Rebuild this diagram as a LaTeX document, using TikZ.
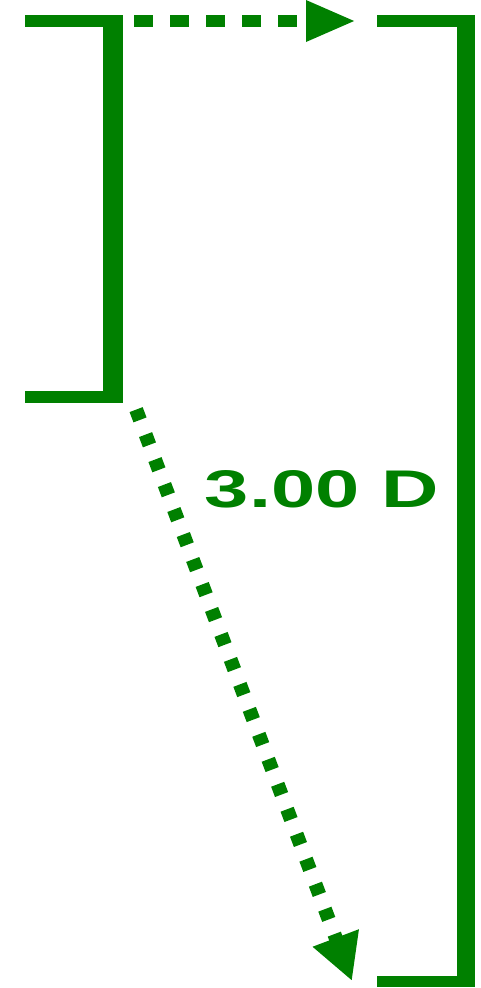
\documentclass[tikz,border=0pt]{standalone}
\usepackage{fontspec}
\setsansfont{Liberation Sans}
\usepackage{xcolor}
\usetikzlibrary{arrows.meta}
\definecolor{lensgreen}{RGB}{0,128,0}

\begin{document}
\begin{tikzpicture}[
  x=1pt, y=-1pt,
  bar/.style={fill=lensgreen},
  arr/.style={draw=lensgreen, line width=12pt, dash pattern=on 19pt off 17pt,
    -{Triangle[length=50pt, width=38pt, fill=lensgreen]}},
  power/.style={text=lensgreen, font=\sffamily\bfseries\fontsize{53}{53}\selectfont, inner sep=0pt}
]
\useasboundingbox (0,0) rectangle (480,988);

% left bracket
\fill[bar] (25,15) rectangle (123,27);
\fill[bar] (103,15) rectangle (123,403);
\fill[bar] (25,391) rectangle (123,403);

% right bracket
\fill[bar] (377,15) rectangle (475,27);
\fill[bar] (457,15) rectangle (475,987);
\fill[bar] (377,976) rectangle (475,987);

\coordinate (topstart) at (134,21);
\coordinate (topend) at (356,21);
\coordinate (diagstart) at (134,404);
\coordinate (diagend) at (352,981);

\node[power] (label) at (322,489) {\scalebox{1.5}[1]{3.00 D}};

\draw[arr] (topstart) -- (topend);
\draw[arr, line width=14pt, dash pattern=on 11pt off 15.7pt, dash phase=-6pt,
  -{Triangle[length=46pt, width=46pt, fill=lensgreen]}] (diagstart) -- (diagend);
\end{tikzpicture}
\end{document}
